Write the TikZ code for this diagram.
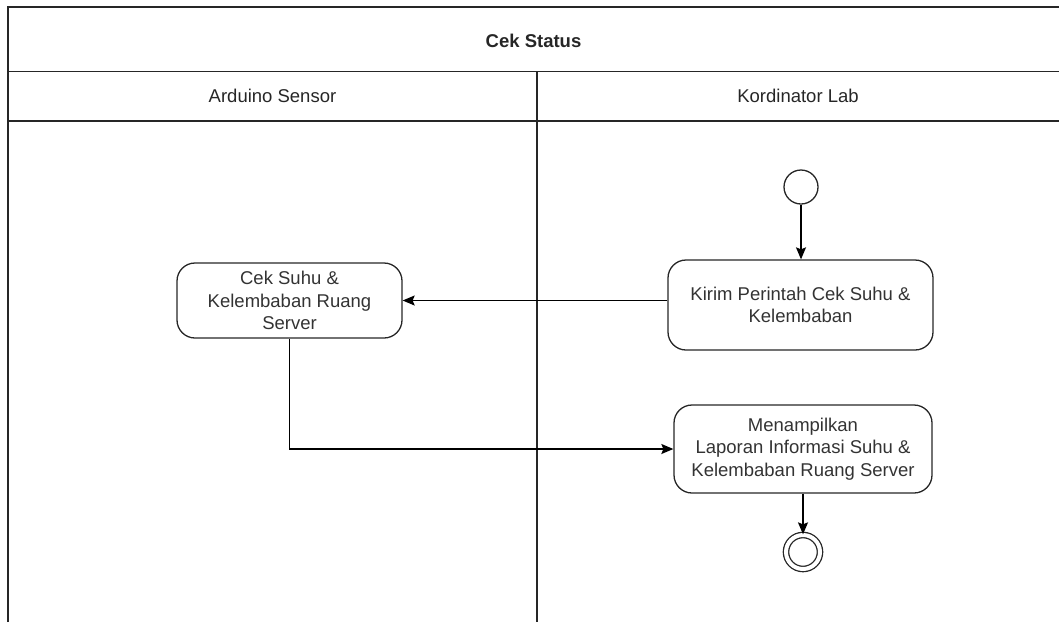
\documentclass[tikz,border=0pt]{standalone}
\usepackage{fontspec}
\setmainfont{Liberation Sans}
\usetikzlibrary{arrows.meta}

\begin{document}
\begin{tikzpicture}[x=1pt,y=-1pt,
  font=\fontsize{18.5}{22.5}\selectfont,
  lane/.style={draw=black!85,line width=1.5pt},
  action/.style={draw=black!85,line width=1.3pt,rounded corners=18pt,
    align=center,text=black!80,inner sep=2pt},
  initial/.style={circle,draw=black!85,line width=1.3pt,minimum size=34pt,inner sep=0pt},
  final/.style={circle,draw=black!85,line width=1.3pt,minimum size=34pt,inner sep=0pt,
    double=white,double distance=4pt},
  flow/.style={draw=black,line width=1.3pt,-{Stealth[length=12pt,width=10pt,inset=2pt]}},
  label/.style={text=black!85,inner sep=0pt}]

  % page frame
  \useasboundingbox (0,0) rectangle (1059,622);

  % swimlane pool
  \draw[lane] (8,622) -- (8,7) -- (1059,7);
  \draw[lane] (8,71.5) -- (1059,71.5);
  \draw[lane] (8,121) -- (1059,121);
  \draw[lane] (537,71.5) -- (537,622);

  \node[label,font=\fontsize{18.5}{22.5}\selectfont\bfseries] (title) at (533.5,41) {Cek Status};
  \node[label] (laneA) at (272.5,96) {Arduino Sensor};
  \node[label] (laneB) at (798,96) {Kordinator Lab};

  % activities
  \node[initial] (start) at (801,187) {};
  \node[action,minimum width=265pt,minimum height=90pt] (kirim) at (800.5,305)
    {Kirim Perintah Cek Suhu \&\\Kelembaban};
  \node[action,minimum width=225pt,minimum height=75pt] (cek) at (289.5,300.5)
    {Cek Suhu \&\\Kelembaban Ruang\\Server};
  \node[action,minimum width=258pt,minimum height=88pt] (tampil) at (803,449)
    {Menampilkan\\Laporan Informasi Suhu \&\\Kelembaban Ruang Server};
  \node[final] (end) at (803,552) {};

  % control flow
  \draw[flow] (start) -- (start |- kirim.north);
  \draw[flow] (cek.east -| kirim.west) -- (cek.east);
  \draw[flow] (cek.south) |- (tampil.west);
  \draw[flow] (tampil.south -| end) -- (end.north);
\end{tikzpicture}
\end{document}
